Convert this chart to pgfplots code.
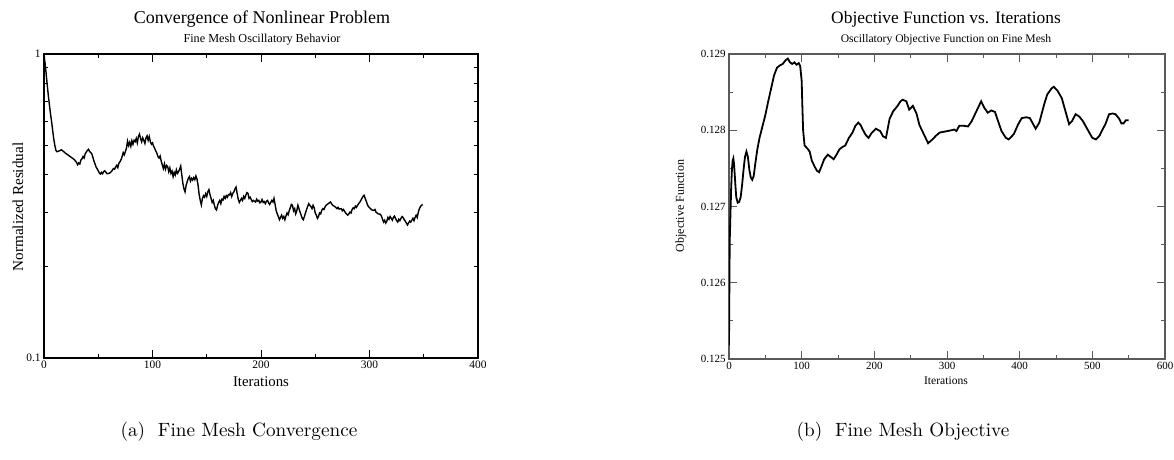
\documentclass[border=0pt]{standalone}
\usepackage{pgfplots}
\pgfplotsset{compat=1.18}
\usepackage{fontspec}
\newfontfamily\tms{Liberation Serif}

\newcommand\fs[1]{\tms\fontsize{#1}{#1}\selectfont}

\begin{document}
\begin{tikzpicture}[x=1pt,y=1pt]
\useasboundingbox (0pt,0pt) rectangle (587pt,-230pt);

\pgfplotsset{
  grace/.style={
    scale only axis, width=217pt, height=152pt,
    tick align=inside,
    major tick length=4pt, minor tick length=2.2pt,
    every tick/.style={black, line width=0.5pt},
    /pgf/number format/assume math mode=true,
    xticklabel style={inner sep=1.5pt},
    yticklabel style={inner sep=1.5pt},
  }
}

% ---------- (a) residual ----------
\begin{axis}[grace,
  at={(22pt,-179pt)}, anchor=south west,
  xmin=0, xmax=400, ymode=log, ymin=0.1, ymax=1,
  xtick={0,100,...,400}, minor xtick={50,150,250,350},
  ytick={0.1,1}, yticklabels={0.1,1},
  minor ytick={0.2,0.3,0.4,0.5,0.6,0.7,0.8,0.9},
  axis line style={line width=1pt},
  ticklabel style={font=\fs{5.7}},
]
\addplot[black, line width=0.7pt] coordinates {
(0,1.0) (1,0.93) (2,0.86) (3,0.79) (4,0.73) (5,0.68) (6,0.635) (7,0.6) (8,0.56) (9,0.525)
(10,0.5) (11,0.482) (12,0.477) (14,0.48) (16,0.484) (18,0.478) (20,0.471) (22,0.466) (24,0.46) (26,0.455)
(28,0.449) (30,0.44) (31,0.432) (32,0.438) (33,0.435) (34,0.448) (35,0.452) (36,0.46) (37,0.455) (38,0.47)
(40,0.482) (41,0.486) (42,0.478) (43,0.474) (44,0.47) (45,0.458) (46,0.445) (47,0.435) (48,0.425) (50,0.413)
(51,0.406) (52,0.403) (53,0.408) (54,0.404) (55,0.41) (56,0.413) (57,0.409) (58,0.404) (60,0.405) (61,0.407)
(62,0.41) (63,0.415) (64,0.42) (65,0.418) (66,0.425) (67,0.43) (68,0.423) (69,0.437) (70,0.442) (71,0.449)
(72,0.46) (73,0.474) (74,0.466) (75,0.478) (76,0.49) (77,0.517) (78,0.5) (79,0.512) (80,0.497) (81,0.518)
(82,0.505) (83,0.52) (84,0.515) (85,0.528) (86,0.51) (87,0.535) (88,0.545) (89,0.527) (90,0.514) (91,0.53)
(92,0.52) (93,0.508) (94,0.53) (95,0.538) (96,0.52) (97,0.535) (98,0.515) (99,0.505) (100,0.51) (101,0.497)
(102,0.49) (103,0.48) (104,0.472) (105,0.46) (106,0.455) (107,0.462) (108,0.445) (109,0.432) (110,0.42) (111,0.435)
(112,0.418) (113,0.43) (114,0.426) (115,0.41) (116,0.422) (117,0.405) (118,0.412) (119,0.395) (120,0.408) (121,0.4)
(122,0.416) (123,0.405) (124,0.41) (125,0.418) (126,0.428) (127,0.4) (128,0.375) (129,0.36) (130,0.352) (131,0.37)
(132,0.38) (133,0.39) (134,0.395) (135,0.382) (136,0.39) (137,0.385) (138,0.392) (139,0.386) (140,0.397) (141,0.388)
(142,0.37) (143,0.345) (144,0.33) (145,0.319) (146,0.335) (147,0.342) (148,0.338) (149,0.347) (150,0.34) (151,0.352)
(152,0.358) (153,0.345) (154,0.335) (155,0.325) (156,0.33) (157,0.318) (158,0.31) (159,0.307) (160,0.318) (161,0.325)
(162,0.33) (163,0.322) (164,0.333) (165,0.331) (166,0.34) (167,0.335) (168,0.342) (169,0.338) (170,0.345) (171,0.344)
(172,0.35) (173,0.34) (174,0.348) (175,0.352) (176,0.36) (177,0.365) (178,0.348) (179,0.333) (180,0.325) (181,0.33)
(182,0.335) (183,0.33) (184,0.34) (185,0.335) (186,0.343) (187,0.35) (188,0.348) (189,0.335) (190,0.338) (191,0.332)
(192,0.327) (193,0.33) (195,0.326) (196,0.333) (197,0.328) (198,0.33) (199,0.324) (200,0.326) (201,0.332) (202,0.325)
(203,0.327) (204,0.322) (205,0.328) (206,0.33) (207,0.324) (208,0.32) (209,0.325) (210,0.33) (211,0.326) (212,0.335)
(213,0.32) (214,0.305) (215,0.298) (216,0.292) (217,0.285) (218,0.29) (219,0.295) (220,0.288) (221,0.292) (222,0.285)
(223,0.293) (224,0.3) (225,0.296) (226,0.305) (227,0.312) (228,0.32) (229,0.318) (230,0.305) (231,0.31) (232,0.298)
(233,0.305) (234,0.318) (235,0.31) (236,0.302) (237,0.295) (238,0.288) (239,0.285) (240,0.292) (241,0.3) (242,0.308)
(243,0.315) (244,0.322) (245,0.318) (246,0.315) (247,0.31) (248,0.318) (249,0.312) (250,0.3) (251,0.295) (252,0.288)
(253,0.292) (254,0.3) (255,0.298) (256,0.306) (257,0.31) (258,0.308) (259,0.314) (260,0.318) (262,0.322) (264,0.326)
(265,0.322) (266,0.318) (268,0.315) (270,0.31) (271,0.313) (272,0.309) (274,0.31) (275,0.305) (276,0.308) (278,0.3)
(280,0.295) (281,0.298) (282,0.302) (283,0.3) (284,0.308) (285,0.312) (286,0.31) (287,0.316) (288,0.313) (289,0.318)
(290,0.322) (291,0.325) (292,0.33) (293,0.335) (294,0.34) (295,0.343) (296,0.335) (297,0.328) (298,0.32) (299,0.315)
(300,0.312) (301,0.31) (302,0.307) (304,0.306) (305,0.308) (306,0.302) (308,0.298) (310,0.297) (311,0.293) (312,0.286)
(313,0.28) (314,0.284) (315,0.278) (316,0.282) (317,0.29) (318,0.286) (319,0.292) (320,0.288) (321,0.284) (322,0.29)
(323,0.293) (324,0.288) (325,0.283) (326,0.28) (327,0.286) (328,0.283) (329,0.288) (330,0.292) (331,0.29) (332,0.285)
(333,0.282) (334,0.278) (335,0.274) (336,0.278) (337,0.282) (338,0.28) (339,0.284) (340,0.288) (341,0.283) (342,0.29)
(343,0.295) (344,0.29) (345,0.302) (346,0.31) (347,0.315) (348,0.318) (349,0.32)
};
\end{axis}

\node[font=\fs{9}] at (131pt,-9.5pt) {Convergence of Nonlinear Problem};
\node[font=\fs{6.1}] at (131pt,-20pt) {Fine Mesh Oscillatory Behavior};
\node[font=\fs{7.4}] at (130.5pt,-191pt) {Iterations};
\node[font=\fs{7.6}, rotate=90] at (9pt,-103.5pt) {Normalized Residual};

% ---------- (b) objective ----------
\begin{axis}[grace,
  at={(364.5pt,-179.5pt)}, anchor=south west, width=218pt, height=152.5pt,
  xmin=0, xmax=600, ymin=0.125, ymax=0.129,
  xtick={0,100,...,600}, minor xtick={50,150,...,550},
  ytick={0.125,0.126,0.127,0.128,0.129},
  minor ytick={0.1255,0.1265,0.1275,0.1285},
  scaled y ticks=false,
  yticklabel style={/pgf/number format/.cd, fixed, fixed zerofill, precision=3},
  axis line style={line width=0.6pt, black!65},
  every tick/.style={black!65, line width=0.5pt},
  ticklabel style={font=\fs{5.5}},
]
\addplot[black, line width=0.9pt] coordinates {
(0,0.12518) (0.5,0.1259) (1,0.12655) (2,0.1269) (3,0.12725) (4,0.12748) (5,0.1276) (6,0.12763) (7,0.12755) (8,0.1274)
(9,0.12725) (10,0.12712) (12,0.12705) (14,0.12706) (16,0.12712) (18,0.12728) (20,0.12748) (22,0.12765) (24,0.12772) (26,0.12765)
(28,0.12748) (30,0.12738) (32,0.12735) (34,0.1274) (36,0.12755) (39,0.12775) (42,0.1279) (46,0.12805) (50,0.1282) (54,0.12838)
(58,0.12855) (62,0.12872) (66,0.12882) (70,0.12885) (74,0.12887) (78,0.12892) (81,0.12894) (84,0.12889) (87,0.12887) (90,0.12889)
(93,0.12886) (96,0.12888) (98,0.12884) (100,0.12865) (101,0.1283) (102,0.128) (104,0.1278) (108,0.12776) (111,0.12772) (114,0.1276)
(118,0.12752) (121,0.12747) (124,0.12745) (127,0.12752) (131,0.12762) (136,0.12768) (140,0.12765) (144,0.12762) (148,0.12768) (152,0.12775)
(156,0.12778) (160,0.1278) (165,0.1279) (170,0.12797) (174,0.12806) (178,0.1281) (181,0.12807) (184,0.12801) (188,0.12794) (192,0.1279)
(196,0.12796) (202,0.12802) (208,0.12799) (212,0.12792) (216,0.1279) (219,0.12805) (221,0.12815) (226,0.12825) (232,0.12832) (236,0.12838)
(239,0.1284) (244,0.12838) (248,0.12827) (253,0.12832) (258,0.12822) (262,0.12807) (268,0.12795) (274,0.12783) (280,0.12788) (285,0.12793)
(290,0.12797) (301,0.12799) (306,0.128) (310,0.12801) (313,0.12799) (317,0.12806) (322,0.12806) (329,0.12805) (334,0.12812) (338,0.1282)
(343,0.1283) (347,0.12838) (351,0.1283) (356,0.12823) (361,0.12826) (366,0.12824) (371,0.1281) (375,0.12799) (381,0.1279) (385,0.12788)
(392,0.12795) (398,0.12808) (403,0.12816) (409,0.12817) (414,0.12816) (418,0.12809) (422,0.12802) (427,0.1281) (434,0.12835) (438,0.12847)
(444,0.12855) (447,0.12857) (452,0.12852) (458,0.12842) (463,0.12825) (468,0.12808) (472,0.12812) (477,0.12821) (482,0.12818) (487,0.12812)
(494,0.128) (500,0.1279) (505,0.12788) (510,0.12793) (514,0.12801) (518,0.12808) (523,0.12821) (528,0.12822) (532,0.12821) (537,0.12815)
(540,0.12809) (543,0.12809) (546,0.12813) (550,0.12813)
};
\end{axis}

\node[font=\fs{8.7}] at (473pt,-9.5pt) {Objective Function vs. Iterations};
\node[font=\fs{5.8}] at (473pt,-20pt) {Oscillatory Objective Function on Fine Mesh};
\node[font=\fs{5.8}] at (473pt,-190.5pt) {Iterations};
\node[font=\fs{6}, rotate=90] at (340.5pt,-103pt) {Objective Function};

% ---------- captions ----------
\node[font=\fontsize{9.6}{11}\selectfont] at (119.5pt,-216pt) {(a)\ \ Fine Mesh Convergence};
\node[font=\fontsize{9.6}{11}\selectfont] at (451.5pt,-216pt) {(b)\ \ Fine Mesh Objective};
\end{tikzpicture}
\end{document}
